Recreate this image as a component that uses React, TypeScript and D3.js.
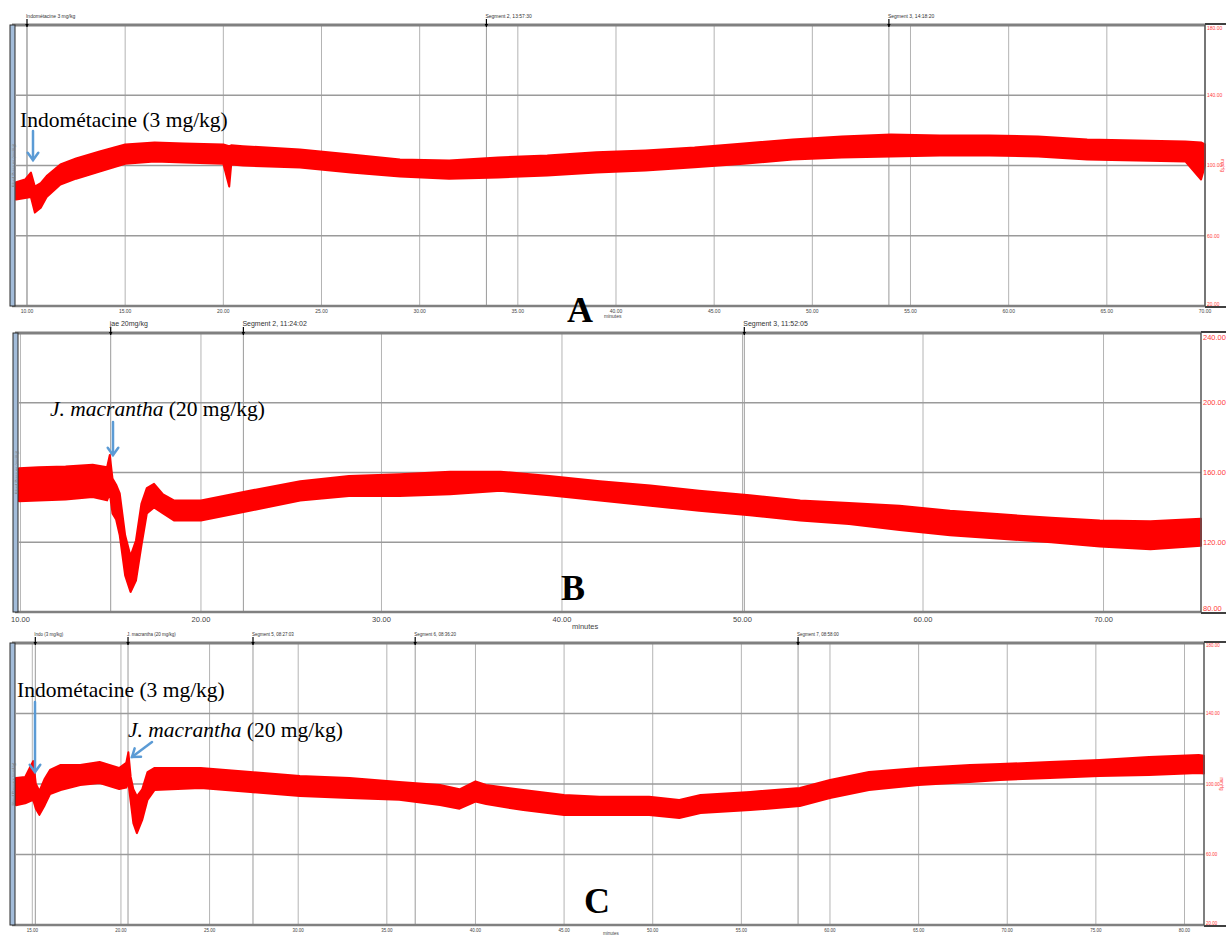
import React from 'react';
import * as d3 from 'd3';

// trace A: minutes, upper and lower envelope of the pressure band (mmHg)
const aTime = [9.45, 9.9, 10.2, 10.4, 10.7, 11.0, 11.7, 12.5, 13.7, 15.0, 16.5, 18.0, 20.0, 20.3, 20.4, 21.0, 23.9, 26.5, 29.0, 31.5, 34.0, 36.5, 39.0, 41.5, 44.0, 46.5, 49.0, 51.5, 54.0, 56.5, 59.0, 61.5, 64.0, 66.5, 69.0, 69.8, 70.0];
const aHigh = [90.5, 92.0, 96.0, 88.0, 90.0, 94.0, 100.6, 104.0, 108.0, 112.0, 113.1, 112.5, 112.0, 111.0, 111.5, 111.0, 109.1, 106.3, 103.4, 102.8, 104.6, 105.7, 107.5, 108.6, 110.2, 112.5, 114.8, 116.5, 117.7, 117.1, 117.1, 116.5, 114.8, 114.2, 113.7, 113.1, 112.0];
const aLow = [80.6, 81.5, 82.0, 73.2, 76.0, 82.0, 89.2, 92.5, 96.6, 101.0, 102.3, 101.7, 101.0, 88.0, 100.5, 100.0, 98.9, 96.0, 93.8, 92.5, 93.2, 94.3, 96.0, 97.1, 99.0, 101.0, 103.4, 104.6, 105.1, 105.7, 105.7, 105.1, 103.4, 102.8, 102.3, 92.0, 100.0];

// trace B
const bTime = [9.92, 11.0, 12.5, 14.0, 14.8, 14.95, 15.1, 15.3, 15.5, 15.8, 16.1, 16.4, 16.7, 17.0, 17.4, 17.9, 18.5, 20.0, 22.7, 25.5, 28.2, 31.0, 33.8, 36.6, 39.3, 42.1, 44.9, 47.6, 50.4, 53.2, 55.9, 58.7, 61.5, 64.3, 67.1, 69.8, 72.6, 75.4];
const bHigh = [162.5, 163.0, 163.5, 164.5, 163.0, 170.0, 156.5, 153.0, 148.0, 124.0, 112.0, 121.0, 142.0, 151.0, 153.5, 147.5, 144.0, 144.0, 149.5, 155.0, 158.0, 159.0, 160.5, 160.5, 158.0, 155.0, 152.5, 149.5, 147.0, 144.0, 142.5, 141.0, 138.0, 136.0, 134.0, 132.5, 132.0, 133.5];
const bLow = [143.5, 144.0, 144.5, 146.0, 144.0, 148.0, 136.5, 133.0, 124.0, 101.0, 91.5, 98.0, 118.0, 136.5, 140.0, 136.5, 132.5, 132.5, 138.0, 144.0, 146.5, 146.5, 147.5, 149.5, 147.0, 144.0, 141.0, 138.0, 135.5, 132.5, 130.5, 127.0, 124.0, 122.0, 120.0, 117.5, 116.0, 118.0];

// trace C
const cTime = [14.08, 14.6, 15.05, 15.2, 15.4, 15.7, 16.0, 16.6, 17.7, 18.8, 19.9, 20.3, 20.42, 20.55, 20.7, 20.9, 21.2, 21.5, 21.9, 24.5, 27.3, 30.1, 32.9, 35.7, 38.0, 39.1, 40.0, 40.6, 42.7, 45.0, 47.0, 49.8, 51.5, 52.7, 55.5, 58.3, 60.0, 62.2, 65.0, 67.9, 69.6, 72.4, 75.2, 78.0, 80.8, 81.1];
const cHigh = [103.4, 104.0, 113.0, 100.0, 96.0, 103.0, 108.0, 110.8, 110.8, 112.5, 109.1, 112.0, 118.0, 104.0, 97.0, 93.0, 97.0, 106.8, 109.1, 109.1, 106.8, 104.5, 103.4, 101.1, 99.4, 97.0, 101.5, 99.4, 96.6, 93.8, 92.7, 92.7, 90.9, 93.8, 95.5, 97.7, 102.3, 106.8, 109.1, 110.8, 111.3, 112.5, 113.6, 115.3, 116.5, 116.0];
const cLow = [88.0, 89.0, 91.0, 86.0, 82.5, 88.0, 94.3, 96.6, 99.4, 100.6, 97.1, 98.0, 101.0, 90.0, 77.8, 72.1, 79.6, 91.0, 96.6, 97.7, 95.5, 93.2, 92.1, 91.0, 88.1, 86.0, 90.0, 88.6, 85.2, 82.4, 82.4, 82.4, 80.7, 83.5, 85.2, 87.5, 92.1, 96.6, 99.4, 101.1, 102.3, 103.4, 104.5, 105.1, 106.3, 106.0];

const aMarkers = [{ m: 10.0, label: 'Indométacine 3 mg/kg' }, { m: 33.4, label: 'Segment 2, 13:57:30' }, { m: 53.9, label: 'Segment 3, 14:18:20' }];
const bMarkers = [{ m: 15.0, label: 'jae 20mg/kg' }, { m: 22.35, label: 'Segment 2, 11:24:02' }, { m: 50.1, label: 'Segment 3, 11:52:05' }];
const cMarkers = [{ m: 15.17, label: 'Indo (3 mg/kg)' }, { m: 20.4, label: 'J. macrantha (20 mg/kg)' }, { m: 27.45, label: 'Segment 5, 08:27:03' }, { m: 36.6, label: 'Segment 6, 08:36:20' }, { m: 58.2, label: 'Segment 7, 08:58:00' }];

const aTicks = [10, 15, 20, 25, 30, 35, 40, 45, 50, 55, 60, 65, 70];
const bTicks = [10, 20, 30, 40, 50, 60, 70];
const cTicks = [15, 20, 25, 30, 35, 40, 45, 50, 55, 60, 65, 70, 75, 80];
const aYTicks = [20, 60, 100, 140, 180];
const bYTicks = [80, 120, 160, 200, 240];
const cYTicks = [20, 60, 100, 140, 180];

const SANS = 'Liberation Sans, Arial, sans-serif';
const SERIF = 'Liberation Serif, Times New Roman, serif';
const RED = '#ff0000';
const ARROW = '#5b9bd5';

function Panel(props) {
  const { left, right, top, bottom, xDomain, yDomain, xTicks, yTicks, markers, time, high, low, fs, mfs, letter, letterX, minutesX, minutesY, mmhg } = props;
  const x = d3.scaleLinear().domain(xDomain).range([left, right]);
  const y = d3.scaleLinear().domain(yDomain).range([bottom, top]);
  const idx = d3.range(time.length);
  const area = d3.area()
    .x(i => x(time[i]))
    .y0(i => y(low[i]))
    .y1(i => y(high[i]));
  const midY = (top + bottom) / 2;
  return (
    <g>
      {/* vertical grid */}
      {xTicks.map(t => (
        <line key={'g' + t} x1={x(t)} x2={x(t)} y1={top} y2={bottom} stroke="#b4b4b4" strokeWidth={1} />
      ))}
      {markers.map(mk => (
        <line key={'mg' + mk.m} x1={x(mk.m)} x2={x(mk.m)} y1={top} y2={bottom} stroke="#9a9a9a" strokeWidth={1} />
      ))}
      {/* horizontal grid */}
      {yTicks.slice(1, -1).map(t => (
        <line key={'h' + t} x1={left} x2={right} y1={y(t)} y2={y(t)} stroke="#9a9a9a" strokeWidth={1.5} />
      ))}
      {/* trace */}
      <path d={area(idx)} fill={RED} stroke={RED} strokeWidth={2} strokeLinejoin="round" />
      {/* frame */}
      <line x1={left - 4} x2={right} y1={top} y2={top} stroke="#808080" strokeWidth={3} />
      <line x1={left - 4} x2={right} y1={bottom} y2={bottom} stroke="#808080" strokeWidth={2.5} />
      <line x1={right} x2={right} y1={top} y2={bottom} stroke="#555" strokeWidth={1.5} />
      <line x1={right} x2={1226} y1={top - 1} y2={top - 1} stroke="#000" strokeWidth={1.5} />
      <line x1={right} x2={1226} y1={bottom + 1} y2={bottom + 1} stroke="#000" strokeWidth={1.5} />
      <rect x={left - 6} y={top} width={5} height={bottom - top} fill="#a3bcd9" stroke="#2b2b2b" strokeWidth={1} />
      <text transform={`translate(${left - 2.5},${midY}) rotate(-90)`} textAnchor="middle" dy="0.35em" fontFamily={SANS} fontSize={4} fill="#777">Blood Pressure (mmHg)</text>
      {/* markers on top */}
      {markers.map(mk => (
        <g key={'m' + mk.m}>
          <line x1={x(mk.m)} x2={x(mk.m)} y1={top - 6} y2={top + 2} stroke="#000" strokeWidth={1.2} />
          <path d={`M${x(mk.m) - 1.8},${top - 1}L${x(mk.m) + 1.8},${top - 1}L${x(mk.m)},${top + 2}Z`} fill="#000" />
          <text x={x(mk.m) - 1} y={top - 7} fontFamily={SANS} fontSize={mfs} fill="#333">{mk.label}</text>
        </g>
      ))}
      {/* x tick labels */}
      {xTicks.map(t => (
        <text key={'xt' + t} x={x(t)} y={bottom + fs + 2} textAnchor="middle" fontFamily={SANS} fontSize={fs} fill="#444">{t.toFixed(2)}</text>
      ))}
      <text x={minutesX} y={minutesY} fontFamily={SANS} fontSize={fs} fill="#444">minutes</text>
      {/* y tick labels (red, right) */}
      {yTicks.map(t => (
        <text key={'yt' + t} x={right + 2} y={y(t)} dy={t === yDomain[1] ? '0.9em' : t === yDomain[0] ? '-0.1em' : '0.35em'} fontFamily={SANS} fontSize={fs} fill="#ff3b3b">{t.toFixed(2)}</text>
      ))}
      {mmhg && (
        <text transform={`translate(${right + 16},${y(100)}) rotate(90)`} textAnchor="middle" fontFamily={SANS} fontSize={4.5} fill="#ff3b3b">mmHg</text>
      )}
      <text x={letterX} y={letter.y} textAnchor="middle" fontFamily={SERIF} fontWeight="bold" fontSize={36} fill="#000">{letter.t}</text>
    </g>
  );
}

function Arrow({ x1, y1, x2, y2 }) {
  const ang = Math.atan2(y2 - y1, x2 - x1);
  const h = 9;
  const a1 = ang + Math.PI * 0.8;
  const a2 = ang - Math.PI * 0.8;
  const d = `M${x2 + h * Math.cos(a1)},${y2 + h * Math.sin(a1)}L${x2},${y2}L${x2 + h * Math.cos(a2)},${y2 + h * Math.sin(a2)}`;
  return (
    <g stroke={ARROW} strokeWidth={2.5} fill="none" strokeLinecap="round">
      <line x1={x1} y1={y1} x2={x2} y2={y2} />
      <path d={d} />
    </g>
  );
}

export default function App() {
  return (
    <svg width={1226} height={938} style={{ position: 'absolute', left: 0, top: 0, background: '#fff' }}>
      <rect width={1226} height={938} fill="#fff" />
      <Panel left={16} right={1205} top={25} bottom={306} xDomain={[9.44, 70]} yDomain={[20, 180]}
        xTicks={aTicks} yTicks={aYTicks} markers={aMarkers} time={aTime} high={aHigh} low={aLow}
        fs={5} mfs={5} letter={{ t: 'A', y: 322 }} letterX={580} minutesX={604} minutesY={318} mmhg={true} />
      <Panel left={19} right={1201} top={333} bottom={612} xDomain={[9.92, 75.4]} yDomain={[80, 240]}
        xTicks={bTicks} yTicks={bYTicks} markers={bMarkers} time={bTime} high={bHigh} low={bLow}
        fs={7.5} mfs={7} letter={{ t: 'B', y: 600 }} letterX={573} minutesX={572} minutesY={629} mmhg={false} />
      <Panel left={16} right={1204} top={643} bottom={925} xDomain={[14.08, 81.1]} yDomain={[20, 180]}
        xTicks={cTicks} yTicks={cYTicks} markers={cMarkers} time={cTime} high={cHigh} low={cLow}
        fs={4.5} mfs={4.5} letter={{ t: 'C', y: 913 }} letterX={597} minutesX={603} minutesY={935} mmhg={true} />

      <text x={20} y={127} fontFamily={SERIF} fontSize={21.5} fill="#000">Indométacine (3 mg/kg)</text>
      <Arrow x1={33} y1={131} x2={33} y2={160} />

      <text x={50} y={416} fontFamily={SERIF} fontSize={21.5} fill="#000"><tspan fontStyle="italic">J. macrantha</tspan> (20 mg/kg)</text>
      <Arrow x1={113} y1={422} x2={113} y2={455} />

      <text x={17} y={697} fontFamily={SERIF} fontSize={21.5} fill="#000">Indométacine (3 mg/kg)</text>
      <Arrow x1={35} y1={702} x2={35} y2={772} />

      <text x={128} y={737} fontFamily={SERIF} fontSize={21.5} fill="#000"><tspan fontStyle="italic">J. macrantha</tspan> (20 mg/kg)</text>
      <Arrow x1={152} y1={742} x2={132} y2={757} />
    </svg>
  );
}
